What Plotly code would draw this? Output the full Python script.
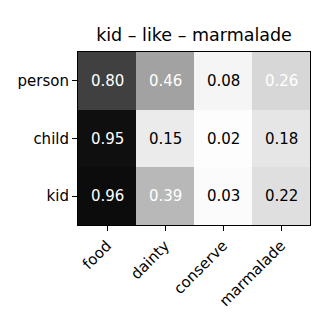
import plotly.graph_objects as go

# data
cols = ["food", "dainty", "conserve", "marmalade"]
rows = ["person", "child", "kid"]
vals = [
    [0.80, 0.46, 0.08, 0.26],
    [0.95, 0.15, 0.02, 0.18],
    [0.96, 0.39, 0.03, 0.22],
]
txt_colors = [
    ["white", "white", "black", "white"],
    ["white", "black", "black", "black"],
    ["white", "white", "black", "black"],
]
title = "kid \u2013 like \u2013 marmalade"

# matplotlib "Greys"
greys = [
    [0.0, "#ffffff"], [0.125, "#f0f0f0"], [0.25, "#d9d9d9"], [0.375, "#bdbdbd"],
    [0.5, "#969696"], [0.625, "#737373"], [0.75, "#525252"], [0.875, "#252525"],
    [1.0, "#000000"],
]

fnt = "DejaVu Sans, sans-serif"

fig = go.Figure()
fig.add_trace(go.Heatmap(z=vals, x=cols, y=rows, zmin=0, zmax=1,
                         colorscale=greys, showscale=False, hoverinfo="skip"))

anns = []
for i, r in enumerate(rows):
    for j, c in enumerate(cols):
        anns.append(dict(x=c, y=r, text="%.2f" % vals[i][j], showarrow=False,
                         font=dict(family=fnt, size=15, color=txt_colors[i][j])))

# page body has an 8px margin, so everything is shifted up/left by 8
fig.update_layout(
    width=327, height=327,
    margin=dict(l=70, r=25, t=44, b=110, autoexpand=False),
    paper_bgcolor="white", plot_bgcolor="white",
    font=dict(family=fnt, size=15, color="black"),
    title=dict(text=title, x=(70 + 116) / 327, xanchor="center",
               y=1 - 27 / 327, yanchor="middle",
               font=dict(family=fnt, size=17.5, color="black")),
    annotations=anns,
    xaxis=dict(tickangle=-45, ticks="outside", ticklen=5, tickcolor="black",
               showline=True, linecolor="black", linewidth=1, mirror=True,
               showgrid=False, zeroline=False, automargin=False),
    yaxis=dict(autorange="reversed", ticks="outside", ticklen=5, tickcolor="black",
               showline=True, linecolor="black", linewidth=1, mirror=True,
               showgrid=False, zeroline=False, automargin=False),
)

fig.write_html("out.html")
